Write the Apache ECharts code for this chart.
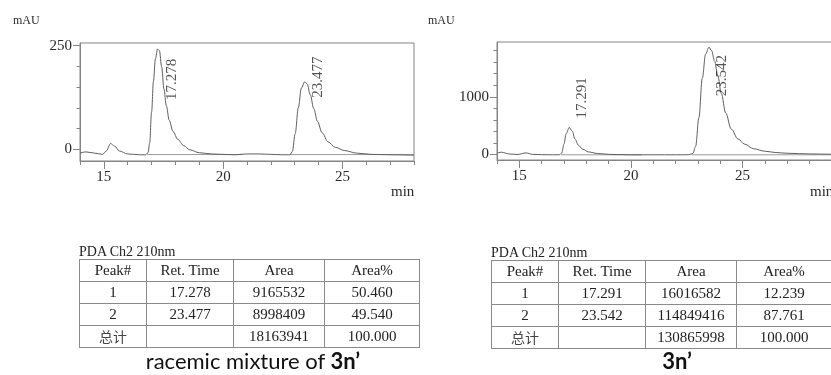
<!DOCTYPE html>
<html>
<head>
<meta charset="utf-8">
<script src="https://cdn.jsdelivr.net/npm/echarts@6.0.0/dist/echarts.min.js"></script>
<style>
  html, body { margin: 0; padding: 0; background: #fff; }
  #wrap { position: relative; width: 831px; height: 375px; overflow: hidden; }
  #chart { position: absolute; left: 0; top: 0; width: 831px; height: 375px; }
  .tbl { position: absolute; border-collapse: collapse; table-layout: fixed;
         font-family: "Liberation Serif", "Noto Sans CJK SC", serif; font-size: 15px; color: #222; }
  .tbl td { border: 1px solid #8a8a8a; text-align: center; padding: 0; height: 21px; line-height: 21px; }
  .tbl .cjk { font-family: "Noto Sans CJK SC", sans-serif; font-size: 14px; color: #444; }
  .ch { position: absolute; font-family: "Liberation Serif", serif; font-size: 14px; color: #222; line-height: 14px; }
  .cap { position: absolute; font-family: Lato, "Open Sans", sans-serif; font-size: 22px; line-height: 24px; color: #111; text-align: center; }
</style>
</head>
<body>
<div id="wrap">
  <div id="chart"></div>
  <div class="ch" style="left:79px;top:245px">PDA Ch2 210nm</div>
  <table class="tbl" id="tblLeft" style="left:79px;top:259px;width:341px"></table>
  <div class="cap" style="left:103px;top:349px;width:300px">racemic mixture of <b>3n’</b></div>

  <div class="ch" style="left:491px;top:246px">PDA Ch2 210nm</div>
  <table class="tbl" id="tblRight" style="left:491px;top:260px;width:340px"></table>
  <div class="cap" style="left:577px;top:349px;width:200px"><b>3n’</b></div>
</div>
<script>
// ---- racemic sample (left) ----
const leftTime = [14.0, 14.25, 14.6, 14.95, 15.1, 15.28, 15.45, 15.65, 16.0, 16.5, 16.75, 16.85, 16.92,
  17.0, 17.08, 17.16, 17.25, 17.33, 17.42, 17.52, 17.62, 17.74, 17.9, 18.1, 18.35, 18.6, 19.0, 19.5,
  20.0, 20.5, 21.0, 21.5, 22.0, 22.5, 22.8, 22.9, 23.02, 23.15, 23.28, 23.42, 23.52, 23.65, 23.8,
  23.95, 24.15, 24.4, 24.7, 25.1, 25.6, 26.2, 27.0, 28.0];
const leftSignal = [-9, -6, -9, -12, -4, 14, 8, -4, -11, -13, -13, -8, 15,
  90, 165, 218, 242, 238, 200, 145, 105, 70, 43, 24, 9, -1, -8, -11,
  -12, -13, -11, -11, -12, -13, -13, -5, 38, 100, 148, 163, 158, 132, 98,
  68, 40, 18, 5, -3, -9, -12, -13, -14];
const leftPeakTime = [17.278, 23.477];
const leftPeakHeight = [242, 163];
const leftBaseline = [[16.82, 20.8, -12.5], [22.8, 28.0, -12.5]];
const leftMajorX = [15, 20, 25];
const leftMinorX = [14, 15, 16, 17, 18, 19, 20, 21, 22, 23, 24, 25, 26, 27, 28];
const leftMajorY = [0, 250];
const leftMinorY = [0, 50, 100, 150, 200, 250];
const leftArea = [9165532, 8998409];
const leftAreaPct = [50.460, 49.540];
const leftTotal = 18163941;

// ---- 3n' sample (right) ----
const rightTime = [14.0, 14.2, 14.55, 14.9, 15.3, 15.6, 16.0, 16.5, 16.8, 16.9, 17.0, 17.1, 17.24,
  17.37, 17.5, 17.65, 17.85, 18.1, 18.5, 19.0, 20.0, 21.0, 22.0, 22.6, 22.78, 22.9, 23.05, 23.2,
  23.35, 23.5, 23.62, 23.75, 23.9, 24.05, 24.25, 24.5, 24.8, 25.1, 25.5, 26.0, 26.5, 27.0, 28.0,
  29.0, 30.0];
const rightSignal = [25, 40, 10, 0, 28, 2, -2, -5, -3, 25, 180, 360, 470,
  405, 265, 160, 90, 45, 18, 3, -5, -5, -5, -4, 20, 140, 640, 1320,
  1740, 1860, 1800, 1620, 1360, 1060, 720, 440, 270, 180, 100, 58, 34, 22, 10,
  5, 3];
const rightPeakTime = [17.291, 23.542];
const rightPeakHeight = [470, 1860];
const rightBaseline = [[16.86, 20.5, -5], [22.72, 30.0, -5]];
const rightMajorX = [15, 20, 25];
const rightMinorX = [14, 15, 16, 17, 18, 19, 20, 21, 22, 23, 24, 25, 26, 27, 28, 29, 30];
const rightMajorY = [0, 1000];
const rightMinorY = [0, 200, 400, 600, 800, 1000, 1200, 1400, 1600, 1800];
const rightArea = [16016582, 114849416];
const rightAreaPct = [12.239, 87.761];
const rightTotal = 130865998;

const tableHead = ["Peak#", "Ret. Time", "Area", "Area%"];
const totalLabel = "总计";

const boxColor = "#858585";
const textColor = "#2a2a2a";
const serif = "Liberation Serif";

// label offsets in px from the peak apex: [right, down]
const leftLabelShift = [[14, 51], [12, 16]];
const rightLabelShift = [[12, -9], [12, 49]];

function zip(xs, ys) {
  return xs.map((x, i) => [x, ys[i]]);
}

const plainLine = { show: true, onZero: false, lineStyle: { color: boxColor, width: 1 } };

function makeChart(g, cfg) {
  const main = g * 2;
  const over = g * 2 + 1;
  const xAxes = [
    {
      gridIndex: main, type: "value", min: cfg.xMin, max: cfg.xMax,
      axisLine: plainLine,
      axisTick: { show: true, customValues: cfg.majorX, length: 8, lineStyle: { color: boxColor } },
      axisLabel: { customValues: cfg.majorX, margin: 9, color: textColor, fontFamily: serif, fontSize: 15 },
      splitLine: { show: false },
    },
    {
      gridIndex: over, type: "value", min: cfg.xMin, max: cfg.xMax,
      axisLine: { show: false, onZero: false },
      axisTick: { show: true, customValues: cfg.minorX, length: 4, lineStyle: { color: boxColor } },
      axisLabel: { show: false },
      splitLine: { show: false },
    },
  ];
  const yAxes = [
    {
      gridIndex: main, type: "value", min: cfg.yMin, max: cfg.yMax,
      axisLine: plainLine,
      axisTick: { show: true, customValues: cfg.majorY, length: 7, lineStyle: { color: boxColor } },
      axisLabel: {
        customValues: cfg.majorY, margin: 8, color: textColor, fontFamily: serif, fontSize: 15,
        formatter: (v) => String(v),
      },
      splitLine: { show: false },
    },
    {
      gridIndex: over, type: "value", min: cfg.yMin, max: cfg.yMax,
      axisLine: { show: false, onZero: false },
      axisTick: { show: true, customValues: cfg.minorY, length: 3.5, lineStyle: { color: boxColor } },
      axisLabel: { show: false },
      splitLine: { show: false },
    },
  ];
  const series = [
    {
      type: "line",
      xAxisIndex: main, yAxisIndex: main,
      data: zip(cfg.time, cfg.signal),
      showSymbol: false,
      smooth: 0.35,
      smoothMonotone: "x",
      lineStyle: { color: "#5f5f5f", width: 1 },
      silent: true,
      z: 3,
    },
  ];
  cfg.baseline.forEach((b) => {
    series.push({
      type: "line",
      xAxisIndex: main, yAxisIndex: main,
      data: [[b[0], b[2]], [b[1], b[2]]],
      showSymbol: false,
      lineStyle: { color: "#9a9a9a", width: 1 },
      silent: true,
      z: 2,
    });
  });
  series.push({
    type: "scatter",
    xAxisIndex: main, yAxisIndex: main,
    symbolSize: 0,
    silent: true,
    z: 5,
    data: cfg.peakTime.map((t, i) => ({
      value: [t, cfg.peakHeight[i]],
      label: { offset: [-cfg.shift[i][1], cfg.shift[i][0]] },
    })),
    label: {
      show: true,
      position: "inside",
      rotate: 90,
      align: "left",
      verticalAlign: "middle",
      color: textColor,
      fontFamily: serif,
      fontSize: 15,
      formatter: (p) => p.value[0].toFixed(3),
    },
  });
  return { xAxes, yAxes, series };
}

const left = makeChart(0, {
  xMin: 14, xMax: 28, yMin: -28, yMax: 256.5,
  majorX: leftMajorX, minorX: leftMinorX, majorY: leftMajorY, minorY: leftMinorY,
  time: leftTime, signal: leftSignal, baseline: leftBaseline,
  peakTime: leftPeakTime, peakHeight: leftPeakHeight, shift: leftLabelShift,
});
const right = makeChart(1, {
  xMin: 14, xMax: 30, yMin: -95, yMax: 1950,
  majorX: rightMajorX, minorX: rightMinorX, majorY: rightMajorY, minorY: rightMinorY,
  time: rightTime, signal: rightSignal, baseline: rightBaseline,
  peakTime: rightPeakTime, peakHeight: rightPeakHeight, shift: rightLabelShift,
});

// the right plot runs past the picture edge, so its box is not kept inside the canvas
const framed = { show: true, borderColor: boxColor, borderWidth: 1, outerBoundsMode: "none" };
const bare = { show: false, outerBoundsMode: "none" };

const option = {
  animation: false,
  backgroundColor: "#fff",
  grid: [
    Object.assign({ left: 80, top: 43, width: 334, height: 118 }, framed),
    Object.assign({ left: 80, top: 43, width: 334, height: 118 }, bare),
    Object.assign({ left: 497, top: 42, width: 357, height: 118 }, framed),
    Object.assign({ left: 497, top: 42, width: 357, height: 118 }, bare),
  ],
  xAxis: left.xAxes.concat(right.xAxes),
  yAxis: left.yAxes.concat(right.yAxes),
  series: left.series.concat(right.series),
  graphic: [
    { type: "text", left: 13, top: 15, style: { text: "mAU", fill: textColor, font: "12px " + serif } },
    { type: "text", left: 391, top: 185, style: { text: "min", fill: textColor, font: "15px " + serif } },
    { type: "text", left: 428, top: 15, style: { text: "mAU", fill: textColor, font: "12px " + serif } },
    { type: "text", left: 810, top: 185, style: { text: "min", fill: textColor, font: "15px " + serif } },
  ],
};

const chart = echarts.init(document.getElementById("chart"));
chart.setOption(option);

function fillTable(id, times, areas, pcts, total) {
  const cols = [67, 87, 91, 95];
  let html = "<colgroup>" + cols.map((w) => `<col style="width:${w}px">`).join("") + "</colgroup>";
  html += "<tr>" + tableHead.map((h) => `<td>${h}</td>`).join("") + "</tr>";
  times.forEach((t, i) => {
    html += `<tr><td>${i + 1}</td><td>${t.toFixed(3)}</td><td>${areas[i]}</td><td>${pcts[i].toFixed(3)}</td></tr>`;
  });
  html += `<tr><td class="cjk">${totalLabel}</td><td></td><td>${total}</td><td>${(100).toFixed(3)}</td></tr>`;
  document.getElementById(id).innerHTML = html;
}

fillTable("tblLeft", leftPeakTime, leftArea, leftAreaPct, leftTotal);
fillTable("tblRight", rightPeakTime, rightArea, rightAreaPct, rightTotal);
</script>
</body>
</html>
